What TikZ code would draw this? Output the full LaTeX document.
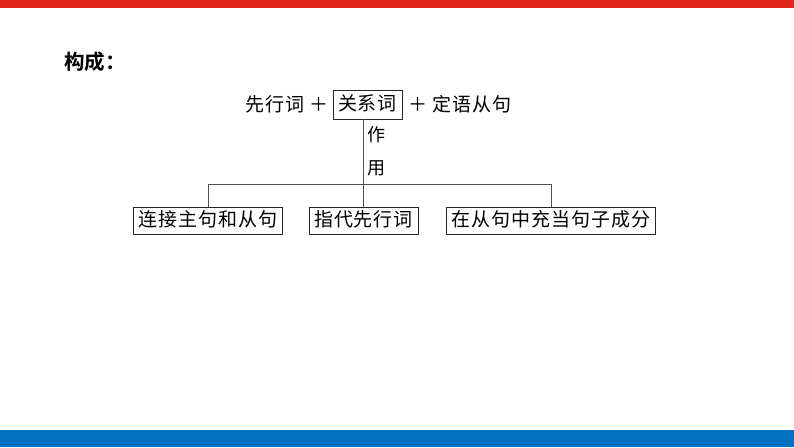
\documentclass[tikz,border=0pt]{standalone}
\usepackage{fontspec}
\setmainfont{Noto Sans CJK SC}
\newfontfamily\cjk[LetterSpace=5]{Noto Sans CJK SC}
\newfontfamily\cjkbold{Noto Sans CJK SC}[BoldFont={* Bold}]
\definecolor{topred}{HTML}{E1261C}
\definecolor{botblue}{HTML}{0070C0}
\definecolor{lin}{HTML}{505050}
\begin{document}
\begin{tikzpicture}[x=1pt,y=-1pt,
  txt/.style={font=\cjk\fontsize{19}{21}\selectfont, inner sep=0pt},
  box/.style={draw=black!85, line width=0.8pt, font=\cjk\fontsize{19}{21}\selectfont,
     inner xsep=5pt, inner ysep=0pt, minimum height=27pt, text height=15pt, text depth=3pt},
  conn/.style={draw=lin, line width=0.8pt}]
\useasboundingbox (0,0) rectangle (794,447);
\fill[topred] (0,0) rectangle (794,8);
\fill[botblue] (0,430) rectangle (794,447);
\node[font=\cjkbold\bfseries\fontsize{20.5}{22}\selectfont, anchor=west, inner sep=0pt] (title) at (64,62) {构成：};
\node[box, minimum height=29pt] (rel) at (367.5,104.5) {关系词};
\node[txt, anchor=east] (ante) at (329,104.5) {先行词 ＋};
\node[txt, anchor=west] (clause) at (408,104.5) {＋ 定语从句};
\node[box] (l) at (208,220.5) {连接主句和从句};
\node[box] (m) at (363.5,220.5) {指代先行词};
\node[box] (r) at (551,220.5) {在从句中充当句子成分};
\node[font=\cjk\fontsize{18}{20}\selectfont, inner sep=0pt] (zuo) at (376,135) {作};
\node[font=\cjk\fontsize{18}{20}\selectfont, inner sep=0pt] (yong) at (376,168) {用};
\coordinate (hl) at (l.north |- 0,184);
\coordinate (hr) at (r.north |- 0,184);
\draw[conn] (rel.south -| m.north) -- (m.north);
\draw[conn] (l.north) -- (hl) -- (hr) -- (r.north);
\end{tikzpicture}
\end{document}
